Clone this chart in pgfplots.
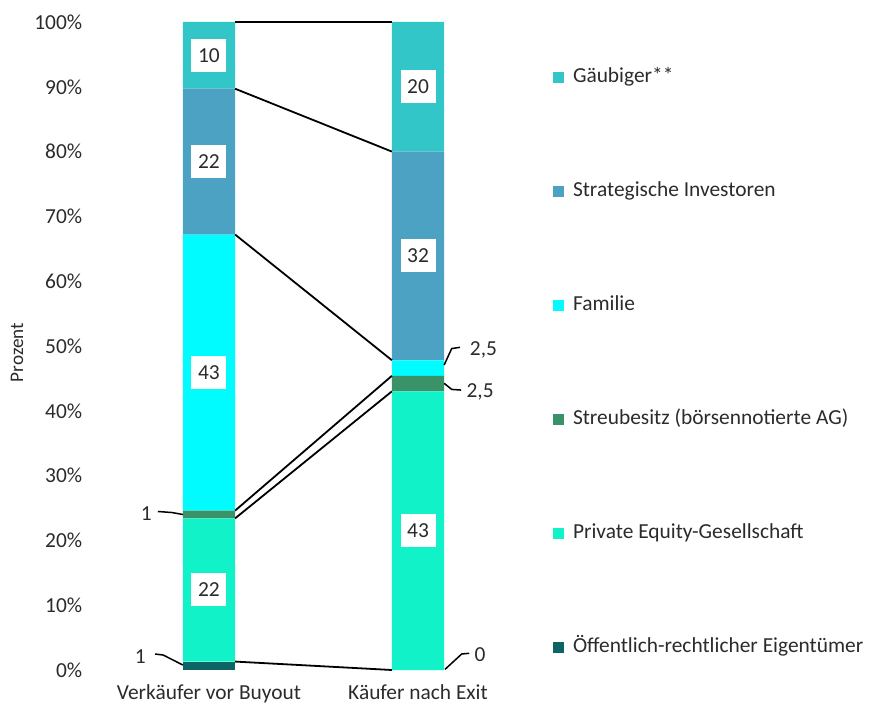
\documentclass[border=0pt]{standalone}
\usepackage{fontspec}
\setmainfont{Carlito}
\usepackage{pgfplots}
\pgfplotsset{compat=1.18}
\definecolor{cGl}{HTML}{33C6C8}
\definecolor{cSt}{HTML}{4BA2C2}
\definecolor{cFa}{HTML}{00FCFF}
\definecolor{cSb}{HTML}{3A9268}
\definecolor{cPE}{HTML}{12F2C8}
\definecolor{cOe}{HTML}{0D6464}
\definecolor{textc}{HTML}{2B2B2B}
\pgfplotsset{sqleg/.style={legend image code/.code={\fill[##1] (0pt,-2.75pt) rectangle (5.5pt,2.75pt);}}}
\begin{document}
\fontsize{10.7}{13}\selectfont
\begin{tikzpicture}
\pgfplotsset{common/.style={width=219.5pt, height=324pt, scale only axis, xmin=-0.55, xmax=1.55, ymin=0, ymax=100, enlargelimits=false}}
\begin{axis}[common, ybar stacked, bar width=0.25,
  axis lines=left, axis line style={draw=none}, tick style={draw=none},
  xtick={0,1}, xticklabels={Verkäufer vor Buyout, Käufer nach Exit},
  ytick={0,10,...,100}, yticklabel={\pgfmathprintnumber{\tick}\%},
  /pgf/number format/assume math mode=true,
  tick label style={text=textc, font=\fontsize{10.7}{13}\selectfont},
  xticklabel style={yshift=-1.5pt},
  ylabel={Prozent}, ylabel style={text=textc, font=\fontsize{9.6}{12}\selectfont, at={(axis description cs:-0.1754,0.49)}, anchor=center},
  legend style={at={(axis description cs:1,1)}, anchor=north west, xshift=10pt, yshift=-22.7pt, draw=none, fill=none, inner sep=0pt, outer sep=0pt, row sep=47pt, column sep=4.5pt, nodes={inner sep=0pt, text height=7.5pt, text depth=2.5pt, anchor=west, text=textc}, font=\fontsize{10.7}{13}\selectfont},
  legend cell align=left, reverse legend]
\coordinate (O) at (rel axis cs:0,0);
\addplot[fill=cOe, draw=none, sqleg] coordinates {(0,1.3) (1,0)};
\addlegendentry{Öffentlich-rechtlicher Eigentümer}
\addplot[fill=cPE, draw=none, sqleg] coordinates {(0,22.1) (1,43)};
\addlegendentry{Private Equity-Gesellschaft}
\addplot[fill=cSb, draw=none, sqleg] coordinates {(0,1.2) (1,2.4)};
\addlegendentry{Streubesitz (börsennotierte AG)}
\addplot[fill=cFa, draw=none, sqleg] coordinates {(0,42.6) (1,2.4)};
\addlegendentry{Familie}
\addplot[fill=cSt, draw=none, sqleg] coordinates {(0,22.5) (1,32.2)};
\addlegendentry{Strategische Investoren}
\addplot[fill=cGl, draw=none, sqleg] coordinates {(0,10.3) (1,20.0)};
\addlegendentry{Gäubiger**}
\end{axis}
\begin{axis}[common, hide axis, clip=false]
\addplot[black, line width=0.9pt, mark=none] coordinates {(0.125,100) (0.875,100)};
\addplot[black, line width=0.9pt, mark=none] coordinates {(0.125,89.7) (0.875,80.0)};
\addplot[black, line width=0.9pt, mark=none] coordinates {(0.125,67.2) (0.875,47.8)};
\addplot[black, line width=0.9pt, mark=none] coordinates {(0.125,24.6) (0.875,45.4)};
\addplot[black, line width=0.9pt, mark=none] coordinates {(0.125,23.4) (0.875,43.0)};
\addplot[black, line width=0.9pt, mark=none] coordinates {(0.125,1.3) (0.875,0)};
\addplot[black, line width=0.75pt, mark=none] coordinates {(-0.244,24.46) (-0.177,24.3) (-0.125,24.0)};
\addplot[black, line width=0.75pt, mark=none] coordinates {(-0.258,2.47) (-0.219,2.31) (-0.125,0.77)};
\addplot[black, line width=0.75pt, mark=none] coordinates {(1.125,47.07) (1.161,49.6) (1.201,49.8)};
\addplot[black, line width=0.75pt, mark=none] coordinates {(1.125,44.24) (1.161,43.3) (1.206,43.2)};
\addplot[black, line width=0.75pt, mark=none] coordinates {(1.129,0.1) (1.209,2.47) (1.245,2.58)};
\tikzset{vlab/.style={fill=white, inner sep=0pt, minimum width=17.5pt, minimum height=16.5pt, text=textc}, olab/.style={inner sep=0pt, text=textc}}
\node[vlab] at (axis cs:0,94.85) {10};
\node[vlab] at (axis cs:0,78.45) {22};
\node[vlab] at (axis cs:0,45.9) {43};
\node[vlab] at (axis cs:0,12.35) {22};
\node[vlab] at (axis cs:1,90) {20};
\node[vlab] at (axis cs:1,63.9) {32};
\node[vlab] at (axis cs:1,21.5) {43};
\node[olab] at (axis cs:-0.30,24.2) {1};
\node[olab] at (axis cs:-0.328,2.05) {1};
\node[olab] at (axis cs:1.313,49.4) {2,5};
\node[olab] at (axis cs:1.297,42.9) {2,5};
\node[olab] at (axis cs:1.297,2.3) {0};
\end{axis}
\pgfresetboundingbox
\path ([shift={(-47pt,-17.5pt)}]O) rectangle ([shift={(388pt,335pt)}]O);
\end{tikzpicture}
\end{document}
